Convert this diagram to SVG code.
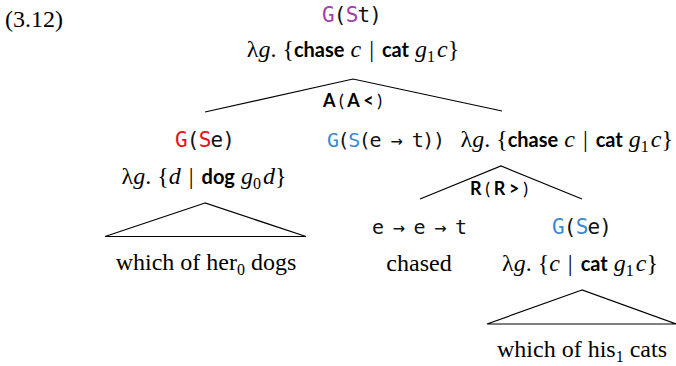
<svg xmlns="http://www.w3.org/2000/svg" width="676" height="366" viewBox="0 0 676 366">
<style>
.ser{font-family:"Liberation Serif",serif;font-size:24px;fill:#000}
.it{font-style:italic}
.b{font-family:Lato,"Open Sans",sans-serif;font-weight:bold;font-size:20px}
.sub{font-size:16px}
.mono{font-family:"DejaVu Sans Mono",monospace;font-size:21px;fill:#111}
.mono2{font-family:"DejaVu Sans Mono",monospace;font-size:20px;fill:#111}
.lbl{font-family:Lato,"Open Sans",sans-serif;font-size:18px;fill:#000}
.lb{font-weight:bold}
.pur{fill:#a040a8}
.red{fill:#e8101a}
.blu{fill:#3b8bd0}
.ln{stroke:#000;stroke-width:1.2;fill:none}
</style>
<rect width="676" height="366" fill="#fff"/>
<text x="5" y="27" class="ser">(3.12)</text>
<g id="root">
<text x="322" y="22" class="mono" textLength="60" lengthAdjust="spacing"><tspan class="pur">G</tspan>(<tspan class="pur">S</tspan>t)</text>
<text x="353" y="57" text-anchor="middle" class="ser">λ<tspan class="it">g</tspan>. {<tspan class="b">chase</tspan> <tspan class="it">c</tspan> <tspan dx="2">|</tspan> <tspan dx="2" class="b">cat</tspan> <tspan class="it">g</tspan><tspan class="sub" dy="5">1</tspan><tspan class="it" dy="-5" dx="2">c</tspan>}</text>
</g>
<g id="left">
<text x="175" y="147" class="mono" textLength="60" lengthAdjust="spacing"><tspan class="red">G</tspan>(<tspan class="red">S</tspan>e)</text>
<text x="204" y="184" text-anchor="middle" class="ser">λ<tspan class="it">g</tspan>. {<tspan class="it">d</tspan> <tspan dx="2">|</tspan> <tspan dx="2" class="b">dog</tspan> <tspan class="it">g</tspan><tspan class="sub" dy="5">0</tspan><tspan class="it" dy="-5" dx="2">d</tspan>}</text>
<text x="206" y="270" text-anchor="middle" class="ser">which of her<tspan class="sub" dy="5">0</tspan><tspan dy="-5"> dogs</tspan></text>
</g>
<g id="right">
<text x="327" y="147" class="mono2" textLength="118" lengthAdjust="spacing"><tspan class="blu">G</tspan>(<tspan class="blu">S</tspan>(e → t))</text>
<text x="673" y="147" text-anchor="end" class="ser">λ<tspan class="it">g</tspan>. {<tspan class="b">chase</tspan> <tspan class="it">c</tspan> <tspan dx="2">|</tspan> <tspan dx="2" class="b">cat</tspan> <tspan class="it">g</tspan><tspan class="sub" dy="5">1</tspan><tspan class="it" dy="-5" dx="2">c</tspan>}</text>
</g>
<g id="verb">
<text x="372" y="234" class="mono2" textLength="95" lengthAdjust="spacing">e → e → t</text>
<text x="419" y="271" text-anchor="middle" class="ser">chased</text>
</g>
<g id="obj">
<text x="552" y="234" class="mono" textLength="60" lengthAdjust="spacing"><tspan class="blu">G</tspan>(<tspan class="blu">S</tspan>e)</text>
<text x="580" y="271" text-anchor="middle" class="ser">λ<tspan class="it">g</tspan>. {<tspan class="it">c</tspan> <tspan dx="2">|</tspan> <tspan dx="2" class="b">cat</tspan> <tspan class="it">g</tspan><tspan class="sub" dy="5">1</tspan><tspan class="it" dy="-5" dx="2">c</tspan>}</text>
<text x="582" y="357" text-anchor="middle" class="ser">which of his<tspan class="sub" dy="5">1</tspan><tspan dy="-5"> cats</tspan></text>
</g>
<g id="connectors">
<polyline class="ln" points="205,112 353,79 502,111"/>
<polygon class="ln" points="205,203 105,236.5 306,236.5"/>
<polyline class="ln" points="420,199 501,166 582,199"/>
<polygon class="ln" points="582,290 487,324 676,324"/>
<text x="323" y="107" class="lbl" textLength="59" lengthAdjust="spacing"><tspan class="lb">A</tspan>(<tspan class="lb">A&lt;</tspan>)</text>
<text x="470" y="195" class="lbl" textLength="58" lengthAdjust="spacing"><tspan class="lb">R</tspan>(<tspan class="lb">R&gt;</tspan>)</text>
</g>
</svg>
